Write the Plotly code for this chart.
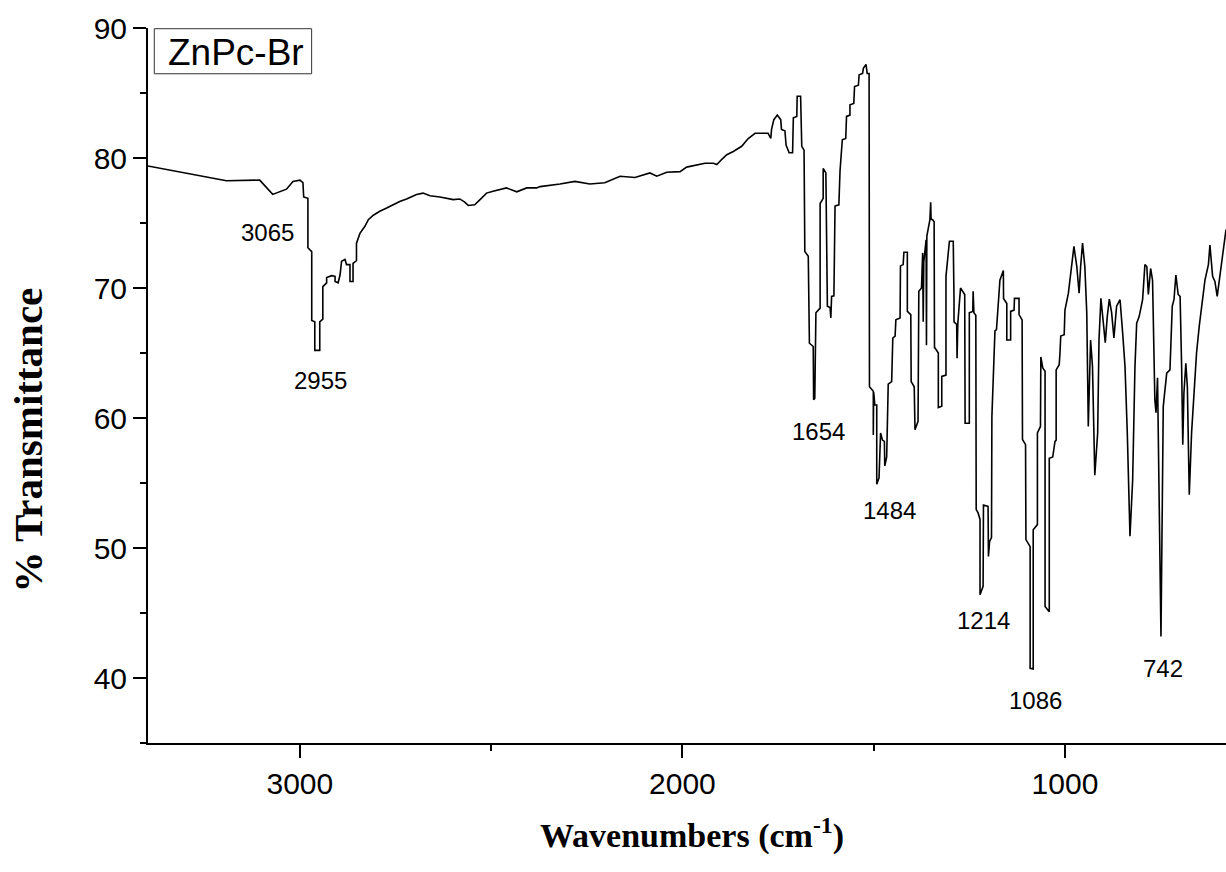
import plotly.graph_objects as go

# Wavenumber (cm-1) and %T
wavenumber = [
    3400, 3306, 3192, 3105, 3084, 3071, 3035, 3018, 3000, 2992, 2990, 2979, 2979, 2969, 2969,
    2961, 2961, 2948, 2948, 2940, 2940, 2930, 2930, 2917, 2908, 2908, 2900, 2895, 2891, 2882,
    2878, 2869, 2869, 2861, 2861, 2852, 2852, 2843, 2830, 2821, 2808, 2791, 2773, 2756, 2739,
    2721, 2695, 2678, 2660, 2634, 2599, 2582, 2569, 2560, 2543, 2529, 2512, 2495, 2460, 2433,
    2407, 2381, 2372, 2320, 2281, 2242, 2203, 2163, 2124, 2085, 2067, 2041, 2006, 1989, 1954,
    1941, 1919, 1910, 1897, 1884, 1867, 1845, 1828, 1810, 1776, 1769, 1767, 1761, 1752, 1743,
    1741, 1732, 1729, 1721, 1712, 1710, 1701, 1700, 1691, 1688, 1682, 1680, 1671, 1668, 1658,
    1657, 1654, 1653, 1651, 1640, 1640, 1632, 1632, 1625, 1621, 1614, 1612, 1610, 1604, 1601,
    1591, 1588, 1582, 1573, 1571, 1562, 1562, 1552, 1550, 1540, 1538, 1529, 1527, 1520, 1517,
    1512, 1511, 1501, 1501, 1500, 1497, 1492, 1492, 1486, 1482, 1477, 1472, 1471, 1466, 1462,
    1453, 1450, 1444, 1442, 1431, 1430, 1423, 1421, 1412, 1412, 1403, 1402, 1394, 1392, 1384,
    1382, 1375, 1372, 1370.5, 1369, 1363, 1362, 1361, 1353, 1351, 1350, 1346, 1342, 1341, 1340,
    1331, 1331, 1322, 1322, 1311, 1311, 1302, 1292, 1290, 1290, 1283, 1282, 1280, 1273, 1262,
    1261, 1250, 1250, 1241, 1240, 1238, 1233, 1232, 1227, 1222, 1222, 1214, 1213, 1201, 1200,
    1197, 1192, 1191, 1183, 1179, 1170, 1161, 1160.5, 1152, 1152, 1142, 1142, 1133, 1132, 1120,
    1120, 1112, 1111, 1103, 1102, 1091, 1091, 1083, 1083, 1072, 1072, 1064, 1063, 1058, 1052,
    1052, 1041, 1041, 1032, 1026, 1023, 1023, 1015, 1013, 1011, 1002, 1000, 991, 987, 982.5,
    976.5, 969, 963, 959, 954, 948, 943, 939, 933, 928, 922, 914.5, 911, 906, 900,
    894.6, 889.4, 884, 878, 872, 865, 856, 849, 843, 837, 830, 823, 817, 812.5, 806,
    797, 791, 786, 782, 776, 771, 765, 762, 758, 749, 743, 734, 725.5, 719.5, 715,
    710, 704, 699, 695, 692, 689, 684, 680, 675, 669, 663, 656, 649, 640, 634,
    625, 621, 614, 608, 602, 595, 590, 586, 582, 579,
]
transmittance = [
    79.4, 78.9, 78.25, 78.3, 77.6, 77.2, 77.6, 78.2, 78.3, 78.1, 77.0, 76.9, 73.1, 72.8, 67.5,
    67.4, 65.2, 65.2, 67.4, 67.6, 70.1, 70.4, 70.8, 70.95, 70.9, 70.5, 70.4, 71.0, 72.05, 72.2,
    71.8, 71.8, 70.5, 70.5, 71.9, 72.1, 73.45, 74.2, 74.75, 75.25, 75.6, 75.9, 76.15, 76.4, 76.65,
    76.85, 77.2, 77.3, 77.1, 77.0, 76.8, 76.85, 76.6, 76.35, 76.4, 76.8, 77.3, 77.45, 77.7, 77.4,
    77.7, 77.7, 77.8, 78.0, 78.2, 78.0, 78.1, 78.6, 78.5, 78.85, 78.6, 78.9, 78.95, 79.3, 79.5,
    79.6, 79.6, 79.5, 79.9, 80.25, 80.5, 80.9, 81.5, 81.9, 81.9, 81.5, 82.2, 82.95, 83.3, 82.95,
    82.2, 82.1, 81.0, 80.4, 80.4, 83.1, 83.2, 84.75, 84.75, 80.9, 80.6, 72.8, 72.45, 65.75, 65.5,
    61.4, 61.5, 66.0, 68.1, 68.45, 76.5, 76.9, 79.2, 78.85, 68.6, 68.5, 67.7, 69.35, 69.4, 76.3,
    76.4, 79.0, 81.4, 81.5, 83.2, 83.3, 84.1, 84.2, 85.5, 85.6, 86.4, 86.5, 86.9, 87.2, 86.5,
    86.5, 62.4, 62.05, 58.7, 62.0, 61.0, 61.0, 54.9, 55.4, 58.85, 58.3, 58.2, 56.3, 57.0, 62.6,
    62.8, 66.15, 66.3, 67.55, 67.7, 71.7, 71.8, 72.75, 72.75, 68.2, 67.95, 62.8, 62.4, 59.1, 59.75,
    69.75, 70.0, 72.7, 67.4, 72.0, 73.7, 65.6, 74.0, 75.25, 76.6, 75.3, 75.25, 75.1, 65.4, 65.4,
    65.0, 60.8, 60.9, 63.2, 63.3, 70.9, 73.6, 73.6, 69.1, 67.4, 67.2, 64.6, 67.3, 70.0, 69.5,
    59.6, 59.6, 68.1, 68.2, 69.75, 68.1, 67.9, 52.95, 52.7, 52.2, 46.4, 47.05, 53.3, 53.2, 49.35,
    50.5, 50.8, 60.1, 66.7, 66.8, 70.6, 71.35, 69.2, 68.8, 66.0, 66.0, 68.2, 68.3, 69.2, 69.2,
    67.95, 67.55, 58.35, 57.95, 50.65, 50.1, 40.75, 40.7, 51.4, 51.8, 58.85, 59.35, 64.7, 63.85, 63.6,
    45.5, 45.1, 56.9, 57.0, 58.2, 58.3, 63.7, 64.1, 65.0, 66.3, 66.4, 68.3, 69.6, 70.6, 71.9,
    73.2, 71.65, 69.6, 71.65, 73.45, 71.65, 68.1, 59.35, 66.0, 63.95, 55.6, 58.85, 66.0, 69.2, 67.05,
    65.8, 67.8, 69.15, 68.1, 66.15, 68.6, 69.1, 66.5, 63.95, 58.85, 50.9, 55.25, 63.95, 67.3, 67.8,
    69.1, 71.8, 71.65, 69.5, 71.5, 70.6, 61.4, 60.4, 63.1, 43.2, 60.9, 63.45, 63.7, 68.6, 69.1,
    71.0, 69.5, 69.35, 63.95, 57.95, 61.9, 64.2, 62.4, 54.1, 58.85, 61.4, 65.0, 67.05, 69.1, 70.6,
    71.8, 73.3, 70.9, 70.5, 69.35, 70.9, 72.05, 72.55, 73.45, 74.5,
]

# Peak labels and their positions (data units)
peak_labels = ["3065", "2955", "1654", "1484", "1214", "1086", "742"]
peak_label_x = [3084, 2946, 1643, 1458, 1214, 1077, 744]
peak_label_y = [74.3, 62.85, 58.95, 52.9, 44.4, 38.3, 40.7]

x_ticks = [3000, 2000, 1000]
y_ticks = [40, 50, 60, 70, 80, 90]

sans = "Liberation Sans, Arial, sans-serif"
serif = "Liberation Serif, Times New Roman, serif"

fig = go.Figure()
fig.add_trace(go.Scatter(
    x=wavenumber, y=transmittance, mode="lines",
    line=dict(color="black", width=1.6), showlegend=False, hoverinfo="skip",
))

annotations = []
for t, xx, yy in zip(peak_labels, peak_label_x, peak_label_y):
    annotations.append(dict(x=xx, y=yy, xref="x", yref="y", text=t, showarrow=False,
                            font=dict(family=sans, size=24, color="black"),
                            xanchor="center", yanchor="middle"))

# legend-like sample name box
annotations.append(dict(x=0.0816, y=0.9658, xref="paper", yref="paper", text="ZnPc-Br",
                        showarrow=False, font=dict(family=sans, size=37, color="black"),
                        xanchor="center", yanchor="middle"))
# axis titles
annotations.append(dict(x=-0.1109, y=0.4237, xref="paper", yref="paper",
                        text="<b>% Transmittance</b>", textangle=-90, showarrow=False,
                        font=dict(family=serif, size=41, color="black"),
                        xanchor="center", yanchor="middle"))
annotations.append(dict(x=0.5046, y=-0.126, xref="paper", yref="paper",
                        text="<b>Wavenumbers (cm<sup>-1</sup>)</b>", showarrow=False,
                        font=dict(family=serif, size=34, color="black"),
                        xanchor="center", yanchor="middle"))

fig.update_layout(
    width=1226, height=872,
    margin=dict(l=148, r=0, t=28, b=129),
    paper_bgcolor="white", plot_bgcolor="white",
    annotations=annotations,
    shapes=[dict(type="rect", xref="paper", yref="paper", x0=0.00584, x1=0.1518,
                 y0=0.936, y1=0.999, line=dict(color="#333333", width=1))],
)
fig.update_xaxes(
    range=[3397, 579], tickvals=x_ticks, ticktext=[str(v) for v in x_ticks],
    showgrid=False, zeroline=False, showline=True, linecolor="black", linewidth=2,
    ticks="outside", ticklen=13, tickwidth=2, tickcolor="black",
    tickfont=dict(family=sans, size=30, color="black"),
    minor=dict(tickvals=[2500, 1500], ticks="outside", ticklen=6, tickwidth=2, tickcolor="black"),
)
fig.update_yaxes(
    range=[35, 90], tickvals=y_ticks, ticktext=[str(v) for v in y_ticks],
    showgrid=False, zeroline=False, showline=True, linecolor="black", linewidth=2,
    ticks="outside", ticklen=13, tickwidth=2, tickcolor="black",
    tickfont=dict(family=sans, size=30, color="black"),
    minor=dict(tickvals=[35, 45, 55, 65, 75, 85], ticks="outside", ticklen=6, tickwidth=2,
               tickcolor="black"),
)

fig.write_html("out.html")
